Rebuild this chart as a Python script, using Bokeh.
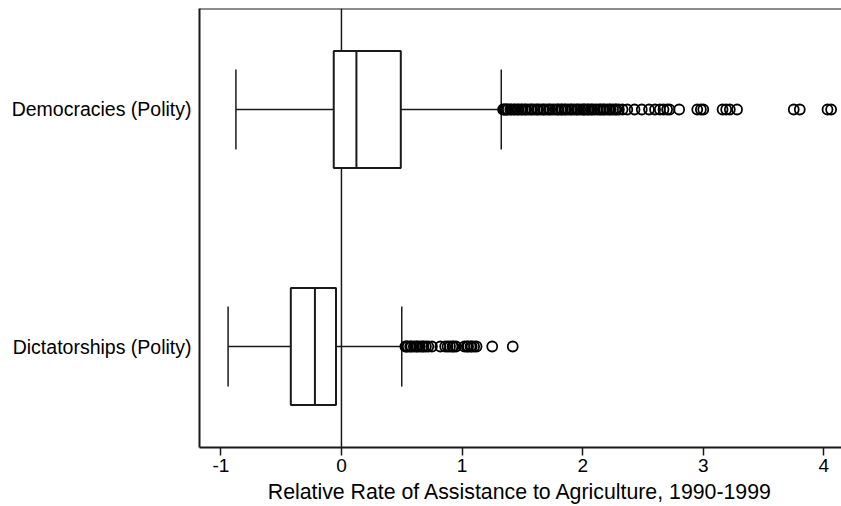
from bokeh.plotting import figure
from bokeh.models import Range1d, FixedTicker, Span
from bokeh.embed import file_html
from bokeh.resources import INLINE

# ---- data ----
groups = ["Dictatorships (Polity)", "Democracies (Polity)"]
group_pos = [0, 1]
q1 = [-0.42, -0.064]
median = [-0.22, 0.124]
q3 = [-0.045, 0.492]
whisk_lo = [-0.94, -0.875]
whisk_hi = [0.50, 1.325]

dem_outliers = [1.34, 1.35, 1.36, 1.37, 1.38, 1.40, 1.41, 1.43, 1.44, 1.46, 1.47,
                1.49, 1.50, 1.52, 1.53, 1.55, 1.57, 1.58, 1.60, 1.62, 1.63, 1.65,
                1.67, 1.68, 1.70, 1.72, 1.73, 1.75, 1.77, 1.79, 1.80, 1.82, 1.83,
                1.85, 1.86, 1.88, 1.90, 1.91, 1.93, 1.95, 1.96, 1.98, 2.00, 2.01,
                2.02, 2.04, 2.05, 2.07, 2.08, 2.10, 2.12, 2.14, 2.15, 2.17, 2.18,
                2.20, 2.22, 2.23, 2.25, 2.27, 2.28, 2.30, 2.33, 2.37, 2.43, 2.49,
                2.55, 2.60, 2.64, 2.67, 2.70, 2.72, 2.80, 2.95, 2.98, 3.00, 3.16,
                3.19, 3.22, 3.28, 3.75, 3.80, 4.03, 4.06]
dict_outliers = [0.53, 0.54, 0.55, 0.57, 0.58, 0.60, 0.62, 0.63, 0.65, 0.67, 0.68,
                 0.70, 0.72, 0.75, 0.82, 0.86, 0.88, 0.90, 0.92, 0.93, 0.95, 1.02,
                 1.04, 1.05, 1.07, 1.08, 1.10, 1.12, 1.25, 1.42]

x_ticks = [-1, 0, 1, 2, 3, 4]
x_title = "Relative Rate of Assistance to Agriculture, 1990-1999"

# ---- style ----
FONT = "Liberation Sans"
BOX_H = 0.247
CAP_H = 0.169
Y0, Y1 = -0.426, 1.426
X0, X1 = -1.177, 4.146
INK = "#1a1a1a"

p = figure(width=841, height=506, output_backend="svg", toolbar_location=None,
           x_range=Range1d(X0, X1), y_range=Range1d(Y0, Y1),
           min_border_left=199, min_border_right=0, min_border_top=8,
           min_border_bottom=59)
p.outline_line_color = None
p.grid.visible = False
p.background_fill_color = "white"

# zero reference line (under boxes)
p.add_layout(Span(location=0, dimension="height", line_color=INK,
                  line_width=1.5, level="underlay"))
# top frame line
p.add_layout(Span(location=Y1, dimension="width", line_color=INK, line_width=2))

for i, y in enumerate(group_pos):
    # whiskers
    p.segment(x0=[whisk_lo[i], q3[i]], y0=[y, y], x1=[q1[i], whisk_hi[i]], y1=[y, y],
              line_color=INK, line_width=1.5)
    # caps
    p.segment(x0=[whisk_lo[i], whisk_hi[i]], y0=[y - CAP_H] * 2,
              x1=[whisk_lo[i], whisk_hi[i]], y1=[y + CAP_H] * 2,
              line_color=INK, line_width=1.5)
    # box
    p.quad(left=[q1[i]], right=[q3[i]], bottom=[y - BOX_H], top=[y + BOX_H],
           fill_color="white", line_color=INK, line_width=2)
    # median
    p.segment(x0=[median[i]], y0=[y - BOX_H], x1=[median[i]], y1=[y + BOX_H],
              line_color=INK, line_width=2)

p.scatter(x=dem_outliers, y=[group_pos[1]] * len(dem_outliers), size=10,
          marker="circle", fill_color=None, line_color="black", line_width=1.8)
p.scatter(x=dict_outliers, y=[group_pos[0]] * len(dict_outliers), size=10,
          marker="circle", fill_color=None, line_color="black", line_width=1.8)

# x axis
xa = p.xaxis[0]
xa.ticker = FixedTicker(ticks=x_ticks)
xa.major_label_overrides = {t: str(t) for t in x_ticks}
xa.minor_tick_line_color = None
xa.major_tick_in = 0
xa.major_tick_out = 8
xa.major_tick_line_color = INK
xa.major_tick_line_width = 1.5
xa.axis_line_color = INK
xa.axis_line_width = 2
xa.major_label_text_font = FONT
xa.major_label_text_font_size = "19px"
xa.major_label_text_color = "black"
xa.major_label_standoff = 3
xa.axis_label = x_title
xa.axis_label_text_font = FONT
xa.axis_label_text_font_size = "21.3px"
xa.axis_label_text_font_style = "normal"
xa.axis_label_text_color = "black"
xa.axis_label_standoff = 5

# y axis
ya = p.yaxis[0]
ya.ticker = FixedTicker(ticks=group_pos)
ya.major_label_overrides = {pos: g for pos, g in zip(group_pos, groups)}
ya.minor_tick_line_color = None
ya.major_tick_line_color = None
ya.major_tick_in = 0
ya.major_tick_out = 0
ya.axis_line_color = INK
ya.axis_line_width = 2
ya.major_label_text_font = FONT
ya.major_label_text_font_size = "19.5px"
ya.major_label_text_color = "black"
ya.major_label_standoff = 8

open("out.html", "w").write(file_html(p, INLINE))
